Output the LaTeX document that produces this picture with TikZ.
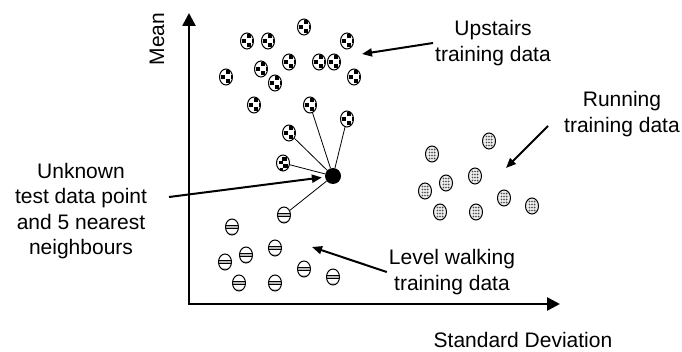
\documentclass[tikz,border=0pt]{standalone}
\usepackage{fontspec}
\setmainfont{Liberation Sans}
\usetikzlibrary{positioning, shapes.geometric, arrows.meta}

\tikzset{
    ball/.style={ellipse, draw, line width=1pt, fill=white, minimum width=13pt, minimum height=16pt, inner sep=0pt},
    upball/.style={ball, path picture={
        \begin{scope}[shift={(path picture bounding box.center)}, rotate=#1]
            \fill [black] (0,-7) rectangle (4,-3);
            \fill [black] (-5,-2) rectangle (-1,2);
            \fill [black] (0,2.5) rectangle (4,6.5);
            \fill [black] (4.5,-1.5) rectangle (7,2);
        \end{scope}}},
    upball/.default=0,
    oddball/.style={ball, path picture={
        \begin{scope}[shift={(path picture bounding box.center)}]
            \fill [black] (-1,-6) rectangle (3.5,-2);
            \fill [black] (-4.5,-2) rectangle (0,1.5);
            \fill [black] (0,1.5) rectangle (4.5,5);
            \fill [black] (-3.5,5) rectangle (0,8);
        \end{scope}}},
    runball/.style={ball, fill=gray!15, path picture={
        \begin{scope}[shift={(path picture bounding box.center)}]
            \foreach \x in {-2.6,0,2.6}
                \foreach \y in {-4.5,-1.5,1.5,4.5}
                    \fill [gray!60!black] (\x,\y) circle (0.9);
        \end{scope}}},
    walkball/.style={ball, path picture={
        \begin{scope}[shift={(path picture bounding box.center)}]
            \fill [black] (-7,-2.2) rectangle (7,-0.8);
            \fill [gray!55] (-7,-0.8) rectangle (7,0.8);
            \fill [black] (-7,0.8) rectangle (7,2.2);
            \fill [gray!45] (-7,5.6) rectangle (7,8);
        \end{scope}}},
    testpt/.style={circle, fill=black, minimum size=16pt, inner sep=0pt},
    lbl/.style={align=center, inner sep=2pt},
    axis/.style={{Triangle[length=13pt,width=13pt]}-{Triangle[length=13pt,width=13pt]}, line width=2.6pt, line join=miter},
    lblarrow/.style={-{Triangle[length=10pt,width=8pt]}, line width=2pt},
    nbline/.style={line width=0.8pt}
}

\begin{document}
\begin{tikzpicture}[x=1pt, y=-1pt, font=\fontsize{21}{25.5}\selectfont]
                    \useasboundingbox (0,0) rectangle (682,352);

                    % axes
                    \coordinate (ytop) at (189,13);
                    \coordinate (origin) at (189,304);
                    \coordinate (xend) at (560,304);
                    \draw [axis] (ytop) -- (origin) -- (xend);
                    \node (ylbl) [rotate=90] at (157,39) {Mean};
                    \node (xlbl) [inner sep=0pt] at (523,340) {Standard Deviation};

                    % upstairs
                    \node (u1) [upball=90] at (304,27) {};
                    \node (u2) [upball] at (247,41) {};
                    \node (u3) [upball=180] at (268,41) {};
                    \node (u4) [upball=270] at (347,41) {};
                    \node (u5) [upball=90] at (289,62) {};
                    \node (u6) [upball] at (319,62) {};
                    \node (u7) [upball=180] at (334,62) {};
                    \node (u8) [upball=270] at (261,69) {};
                    \node (u9) [upball] at (226,77) {};
                    \node (u10) [upball=180] at (275,83) {};
                    \node (u11) [upball=90] at (354,77) {};
                    \node (u12) [upball=270] at (254,105) {};
                    \node (u13) [upball] at (310,105) {};
                    \node (u14) [upball=180] at (347,119) {};
                    \node (u15) [upball=90] at (289,133) {};
                    \node (x1) [oddball] at (283,163) {};

                    % running
                    \node (r1) [runball] at (489,141) {};
                    \node (r2) [runball] at (432,154) {};
                    \node (r3) [runball] at (475,176) {};
                    \node (r4) [runball] at (446,183) {};
                    \node (r5) [runball] at (425,191) {};
                    \node (r6) [runball] at (504,198) {};
                    \node (r7) [runball] at (532,206) {};
                    \node (r8) [runball] at (440,212) {};
                    \node (r9) [runball] at (476,212) {};

                    % level walking
                    \node (w1) [walkball] at (284,215) {};
                    \node (w2) [walkball] at (232,227) {};
                    \node (w3) [walkball] at (275,248) {};
                    \node (w4) [walkball] at (246,255) {};
                    \node (w5) [walkball] at (225,262) {};
                    \node (w6) [walkball] at (304,269) {};
                    \node (w7) [walkball] at (333,277) {};
                    \node (w8) [walkball] at (239,283) {};
                    \node (w9) [walkball] at (275,283) {};

                    % test point and neighbours
                    \node (t) [testpt] at (333,176) {};
                    \draw [nbline] (t) -- (u13);
                    \draw [nbline] (t) -- (u14);
                    \draw [nbline] (t) -- (u15);
                    \draw [nbline] (t) -- (x1);
                    \draw [nbline] (t) -- (w1);

                    % labels
                    \node (uplbl) [lbl] at (493,43) {Upstairs\\training data};
                    \node (runlbl) [lbl] at (622,114) {Running\\training data};
                    \node (unklbl) [lbl] at (81,211) {Unknown\\test data point\\and 5 nearest\\neighbours};
                    \node (lvllbl) [lbl] at (452,272) {Level walking\\training data};

                    \coordinate (upB) at (362,54);
                    \coordinate (runA) at (548,126);
                    \coordinate (runB) at (506,168);
                    \coordinate (unkA) at (169,197);
                    \coordinate (lvlB) at (312,247);

                    \draw [lblarrow] (uplbl.west) -- (upB);
                    \draw [lblarrow] (runA) -- (runB);
                    \draw [lblarrow, shorten >=3pt] (unkA) -- (t);
                    \draw [lblarrow] (lvllbl.west) -- (lvlB);
                \end{tikzpicture}
\end{document}
